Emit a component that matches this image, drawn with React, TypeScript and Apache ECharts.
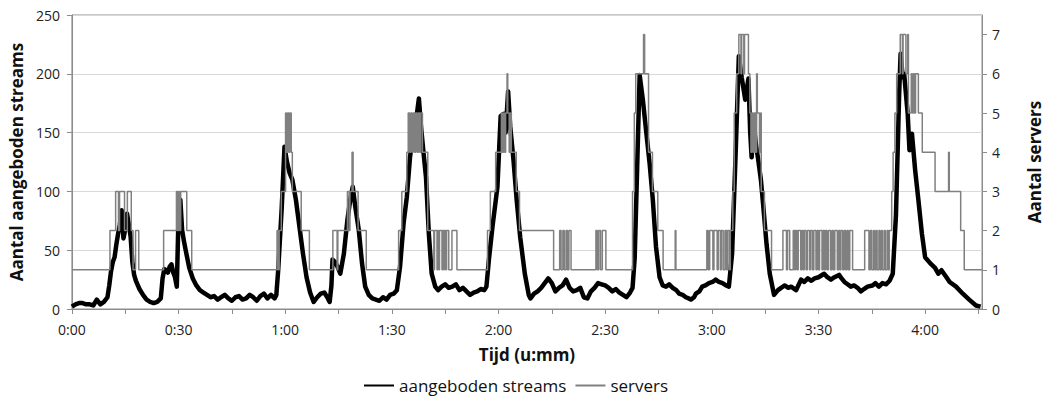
import React, { useEffect, useRef } from "react";
import * as echarts from "echarts";

// time in minutes, value = number of offered streams
const streams: [number, number][] = [
  [0, 2], [1, 4], [2, 5], [3, 5], [4, 4], [5, 4], [6, 3], [7, 8], [8, 4], [9, 6], [10, 10],
  [10.5, 20], [11, 32], [11.5, 40], [12, 44], [12.5, 55], [13, 64], [13.5, 72], [14, 84], [14.5, 60],
  [15, 68], [15.5, 81], [16, 72], [16.5, 62], [17, 40], [17.5, 29], [18, 24], [19, 17], [20, 12],
  [21, 8], [22, 6], [23, 5], [24, 6], [25, 9], [25.5, 26], [26, 34], [26.5, 33], [27, 31], [27.5, 36],
  [28, 38], [28.5, 31], [29, 27], [29.5, 19], [30, 80], [30.5, 93], [31, 67], [31.5, 58], [32, 50],
  [33, 35], [34, 26], [35, 20], [36, 16], [37, 14], [38, 12], [39, 10], [40, 11], [41, 8], [42, 10],
  [43, 12], [44, 9], [45, 7], [46, 10], [47, 11], [48, 8], [49, 9], [50, 12], [51, 10], [52, 7],
  [53, 11], [54, 13], [55, 9], [56, 12], [57, 9], [57.5, 12], [58, 32], [59, 85], [59.8, 138],
  [60.5, 125], [61.2, 116], [62, 110], [63, 93], [64, 70], [65, 47], [66, 27], [67, 14], [68, 6],
  [69, 10], [70, 13], [71, 14], [72, 9], [72.5, 6], [73, 20], [73.3, 42], [74, 40], [74.7, 36],
  [75.5, 30], [76.5, 47], [77.5, 76], [78.3, 93], [79, 104], [79.7, 87], [80.7, 67], [81.6, 39],
  [82.5, 19], [83.5, 12], [84.5, 9], [85.5, 8], [86.5, 7], [87.5, 10], [88.5, 8], [89.5, 12],
  [90.5, 13], [91.4, 16], [92.3, 36], [93.3, 73], [94.2, 95], [95.1, 129], [96, 150], [97, 165],
  [97.6, 179], [98.2, 155], [99, 130], [99.6, 112], [100.4, 64], [101.2, 30], [102.2, 19], [103, 16],
  [104, 19], [105, 21], [106, 18], [107, 19], [108, 21], [109, 16], [110, 18], [111, 15], [112, 12],
  [113, 14], [114, 15], [115, 17], [116, 16], [116.6, 19], [117.3, 42], [118.3, 70], [119.7, 104],
  [120.6, 164], [121.5, 166], [122, 150], [122.7, 185], [123.3, 155], [124.2, 127], [125.1, 93],
  [126.1, 61], [127.4, 30], [128.5, 12], [129, 9], [130, 13], [131, 15], [132, 18], [133, 22],
  [134, 26], [135, 22], [136, 15], [137, 18], [138, 20], [139, 25], [140, 18], [141, 15], [142, 16],
  [143, 18], [144, 10], [145, 9], [146, 15], [147, 18], [148, 22], [149, 21], [150, 20], [151, 18],
  [152, 15], [153, 17], [154, 14], [155, 12], [156, 10], [157, 14], [157.7, 18], [158.3, 43],
  [159, 120], [159.7, 199], [160.6, 178], [161.5, 152], [162.5, 124], [163.4, 93], [164.3, 53],
  [165.3, 27], [166.2, 20], [167.1, 19], [168, 21], [169, 18], [170, 16], [170.8, 13], [171.8, 12],
  [172.7, 10], [173.5, 9], [174.1, 8], [175, 10], [175.5, 13], [176.5, 15], [177.3, 19], [178.2, 20],
  [179.2, 22], [180.2, 23], [181.1, 25], [182, 23], [183, 22], [184, 20], [184.8, 19], [185.7, 47],
  [186.7, 132], [187.6, 215], [188.4, 197], [189.4, 178], [190.3, 196], [190.8, 150], [191.2, 129],
  [191.8, 158], [192.4, 140], [193, 128], [193.8, 110], [194.4, 90], [195.4, 55], [196.3, 30],
  [197.5, 12], [198.6, 16], [199.5, 18], [200.5, 20], [201.5, 18], [202.3, 19], [203.7, 16],
  [205.1, 25], [206, 23], [207, 26], [208, 24], [208.9, 26], [210, 27], [211.6, 30], [212.5, 27],
  [213.5, 25], [214.5, 27], [215.8, 29], [216.5, 26], [217.3, 23], [218.2, 21], [219.1, 19],
  [220, 20], [221, 18], [221.9, 15], [222.8, 17], [223.8, 19], [225.2, 20], [226, 22], [227, 19],
  [228, 22], [229, 21], [230, 24], [230.9, 30], [231.8, 80], [232.7, 183], [233.1, 217], [233.7, 197],
  [234.1, 200], [235.1, 166], [235.6, 135], [236.3, 149], [237.2, 118], [238.1, 93], [239.1, 64],
  [240, 44], [241.4, 39], [242.8, 35], [243.7, 30], [244.6, 33], [246, 27], [246.9, 23], [248.7, 19],
  [250.6, 13], [252.4, 8], [254.3, 3], [255.6, 2],
];

// time in minutes, number of active servers (step changes)
const servers: [number, number][] = [
  [0, 1], [10.7, 2], [12.3, 3], [13.1, 2], [13.4, 3], [14.8, 2], [15.6, 3], [16.7, 2], [17.2, 1],
  [17.9, 2], [18.8, 1], [25.8, 2], [29.4, 3], [29.7, 2], [30.0, 3], [30.3, 2], [30.6, 3], [32.3, 2],
  [33.7, 1], [57.7, 2], [58.0, 1], [58.3, 2], [58.9, 3], [60.1, 5], [60.4, 4], [60.7, 5], [61.0, 4],
  [61.3, 5], [61.7, 4], [62.0, 3], [64.5, 2], [66.8, 1], [73.4, 2], [74.6, 1], [74.8, 2], [77.5, 3],
  [78.0, 2], [78.2, 3], [78.8, 4], [79.1, 3], [80.5, 2], [82.8, 1], [91.9, 2], [92.8, 3], [94.2, 4],
  [94.6, 5], [95.0, 4], [95.3, 5], [95.7, 4], [96.0, 5], [96.4, 4], [96.7, 5], [97.1, 4], [97.4, 5],
  [97.8, 4], [98.1, 5], [98.6, 4], [100.1, 2], [101.8, 1], [102.0, 2], [102.7, 1], [102.9, 2],
  [103.2, 1], [103.4, 2], [104.1, 1], [104.3, 2], [104.6, 1], [104.8, 2], [105.2, 1], [105.4, 2],
  [106.0, 1], [106.9, 2], [108.3, 1], [116.9, 2], [117.7, 3], [119.2, 4], [120.8, 5], [121.1, 4],
  [121.4, 5], [121.7, 4], [122.0, 5], [122.4, 6], [122.6, 5], [123.0, 4], [123.3, 5], [123.6, 4],
  [125.0, 3], [125.9, 2], [135.5, 1], [137.2, 2], [137.6, 1], [138.1, 2], [138.5, 1], [139.0, 2],
  [139.4, 1], [139.8, 2], [140.4, 1], [147.4, 2], [147.8, 1], [148.2, 2], [148.7, 1], [149.2, 2],
  [150.2, 1], [157.7, 3], [158.2, 5], [158.6, 6], [160.8, 7], [161.1, 6], [162.2, 4], [163.3, 3],
  [164.8, 2], [166.3, 1], [169.7, 2], [169.9, 1], [178.6, 2], [179.0, 1], [179.4, 2], [180.3, 1],
  [180.6, 2], [181.5, 1], [181.8, 2], [182.4, 1], [182.7, 2], [183.2, 1], [183.7, 2], [184.1, 1],
  [184.4, 2], [184.9, 1], [185.2, 2], [185.9, 3], [186.3, 5], [187.0, 6], [187.6, 7], [188.2, 6],
  [188.4, 7], [189.0, 6], [189.2, 7], [190.3, 6], [190.7, 5], [191.0, 4], [191.3, 5], [191.6, 4],
  [191.9, 5], [192.3, 4], [192.6, 6], [192.8, 5], [193.4, 4], [193.7, 5], [193.9, 3], [194.8, 2],
  [196.8, 1], [200.0, 2], [201.0, 1], [201.3, 2], [201.9, 1], [202.9, 2], [203.3, 1], [203.6, 2],
  [204.0, 1], [204.3, 2], [205.0, 1], [205.3, 2], [205.7, 1], [206.0, 2], [206.5, 1], [206.9, 2],
  [207.5, 1], [207.8, 2], [208.3, 1], [208.7, 2], [209.3, 1], [209.6, 2], [210.0, 1], [210.3, 2],
  [211.0, 1], [211.3, 2], [211.7, 1], [212.0, 2], [212.4, 1], [212.8, 2], [213.4, 1], [213.8, 2],
  [214.2, 1], [214.6, 2], [215.3, 1], [215.7, 2], [216.0, 1], [216.3, 2], [216.8, 1], [217.2, 2],
  [217.6, 1], [218.0, 2], [218.4, 1], [218.8, 2], [219.6, 1], [223.0, 2], [224.2, 1], [224.6, 2],
  [225.0, 1], [225.5, 2], [225.8, 1], [226.2, 2], [226.5, 1], [227.0, 2], [227.3, 1], [227.7, 2],
  [228.0, 1], [228.5, 2], [228.8, 1], [229.3, 2], [229.6, 1], [229.9, 2], [230.6, 3], [231.0, 4],
  [231.5, 5], [232.0, 6], [233.0, 7], [233.6, 6], [233.8, 7], [234.6, 6], [235.1, 7], [235.3, 5],
  [236.1, 6], [236.4, 5], [236.7, 6], [237.0, 5], [237.3, 6], [238.1, 5], [239.2, 4], [242.8, 3],
  [246.6, 4], [246.8, 3], [250.0, 2], [251.0, 1], [256.0, 1],
];

const xTickValues = [0, 15, 30, 45, 60, 75, 90, 105, 120, 135, 150, 165, 180, 195, 210, 225, 240, 255];
const xLabelValues = [0, 30, 60, 90, 120, 150, 180, 210, 240];
const rightTickValues = [0, 1, 2, 3, 4, 5, 6, 7];

const FONT = "'Open Sans', sans-serif";
const AXIS_GRAY = "#8c8c8c";

function fmtTime(v: number): string {
  const h = Math.floor(v / 60);
  const m = Math.round(v - h * 60);
  return `${h}:${m < 10 ? "0" + m : m}`;
}

export default function App() {
  const ref = useRef<HTMLDivElement>(null);
  useEffect(() => {
    if (!ref.current) return;
    const chart = echarts.init(ref.current, undefined, { renderer: "svg" });
    chart.setOption({
      animation: false,
      textStyle: { fontFamily: FONT },
      grid: {
        left: 71,
        right: 64,
        top: 15,
        bottom: 92,
        show: true,
        borderColor: AXIS_GRAY,
        borderWidth: 1,
      },
      legend: {
        data: ["aangeboden streams", "servers"],
        top: 372,
        left: 358,
        itemWidth: 30,
        itemHeight: 14,
        itemGap: 8,
        itemStyle: { opacity: 0, borderWidth: 0 },
        textStyle: { fontSize: 17, color: "#111", fontFamily: FONT },
      },
      xAxis: {
        type: "value",
        min: 0,
        max: 256,
        name: "Tijd (u:mm)",
        nameLocation: "middle",
        nameGap: 37,
        nameTextStyle: { fontSize: 17, fontWeight: "bold", color: "#111", fontFamily: FONT },
        axisLine: { show: true, lineStyle: { color: AXIS_GRAY } },
        axisTick: { show: true, length: 5, lineStyle: { color: AXIS_GRAY }, customValues: xTickValues },
        axisLabel: {
          fontSize: 14,
          color: "#222",
          margin: 13,
          customValues: xLabelValues,
          formatter: (v: number) => fmtTime(v),
        },
        splitLine: { show: false },
      },
      yAxis: [
        {
          type: "value",
          min: 0,
          max: 250,
          interval: 50,
          name: "Aantal aangeboden streams",
          nameLocation: "middle",
          nameGap: 46,
          nameTextStyle: { fontSize: 17, fontWeight: "bold", color: "#111", fontFamily: FONT },
          axisLine: { show: true, lineStyle: { color: AXIS_GRAY } },
          axisTick: { show: true, length: 5, lineStyle: { color: AXIS_GRAY } },
          axisLabel: { fontSize: 14, color: "#222", margin: 12 },
          splitLine: { show: true, lineStyle: { color: "#d9d9d9", width: 1 } },
        },
        {
          type: "value",
          min: 0,
          max: 7.5,
          position: "right",
          name: "Aantal servers",
          nameLocation: "middle",
          nameGap: 44,
          nameTextStyle: { fontSize: 17, fontWeight: "bold", color: "#111", fontFamily: FONT },
          axisLine: { show: true, lineStyle: { color: AXIS_GRAY } },
          axisTick: { show: true, length: 5, lineStyle: { color: AXIS_GRAY }, customValues: rightTickValues },
          axisLabel: { fontSize: 14, color: "#222", margin: 10, customValues: rightTickValues },
          splitLine: { show: false },
        },
      ],
      series: [
        {
          name: "aangeboden streams",
          type: "line",
          yAxisIndex: 0,
          data: streams,
          symbol: "none",
          lineStyle: { color: "#000", width: 4.5, join: "round" },
          itemStyle: { color: "#000" },
          z: 2,
        },
        {
          name: "servers",
          type: "line",
          yAxisIndex: 1,
          step: "end",
          data: servers,
          symbol: "none",
          lineStyle: { color: "#808080", width: 1.5 },
          itemStyle: { color: "#808080" },
          z: 3,
        },
      ],
    });
    return () => chart.dispose();
  }, []);
  return (
    <div
      ref={ref}
      style={{ position: "fixed", left: 0, top: 0, width: 1051, height: 401, background: "#fff" }}
    />
  );
}
